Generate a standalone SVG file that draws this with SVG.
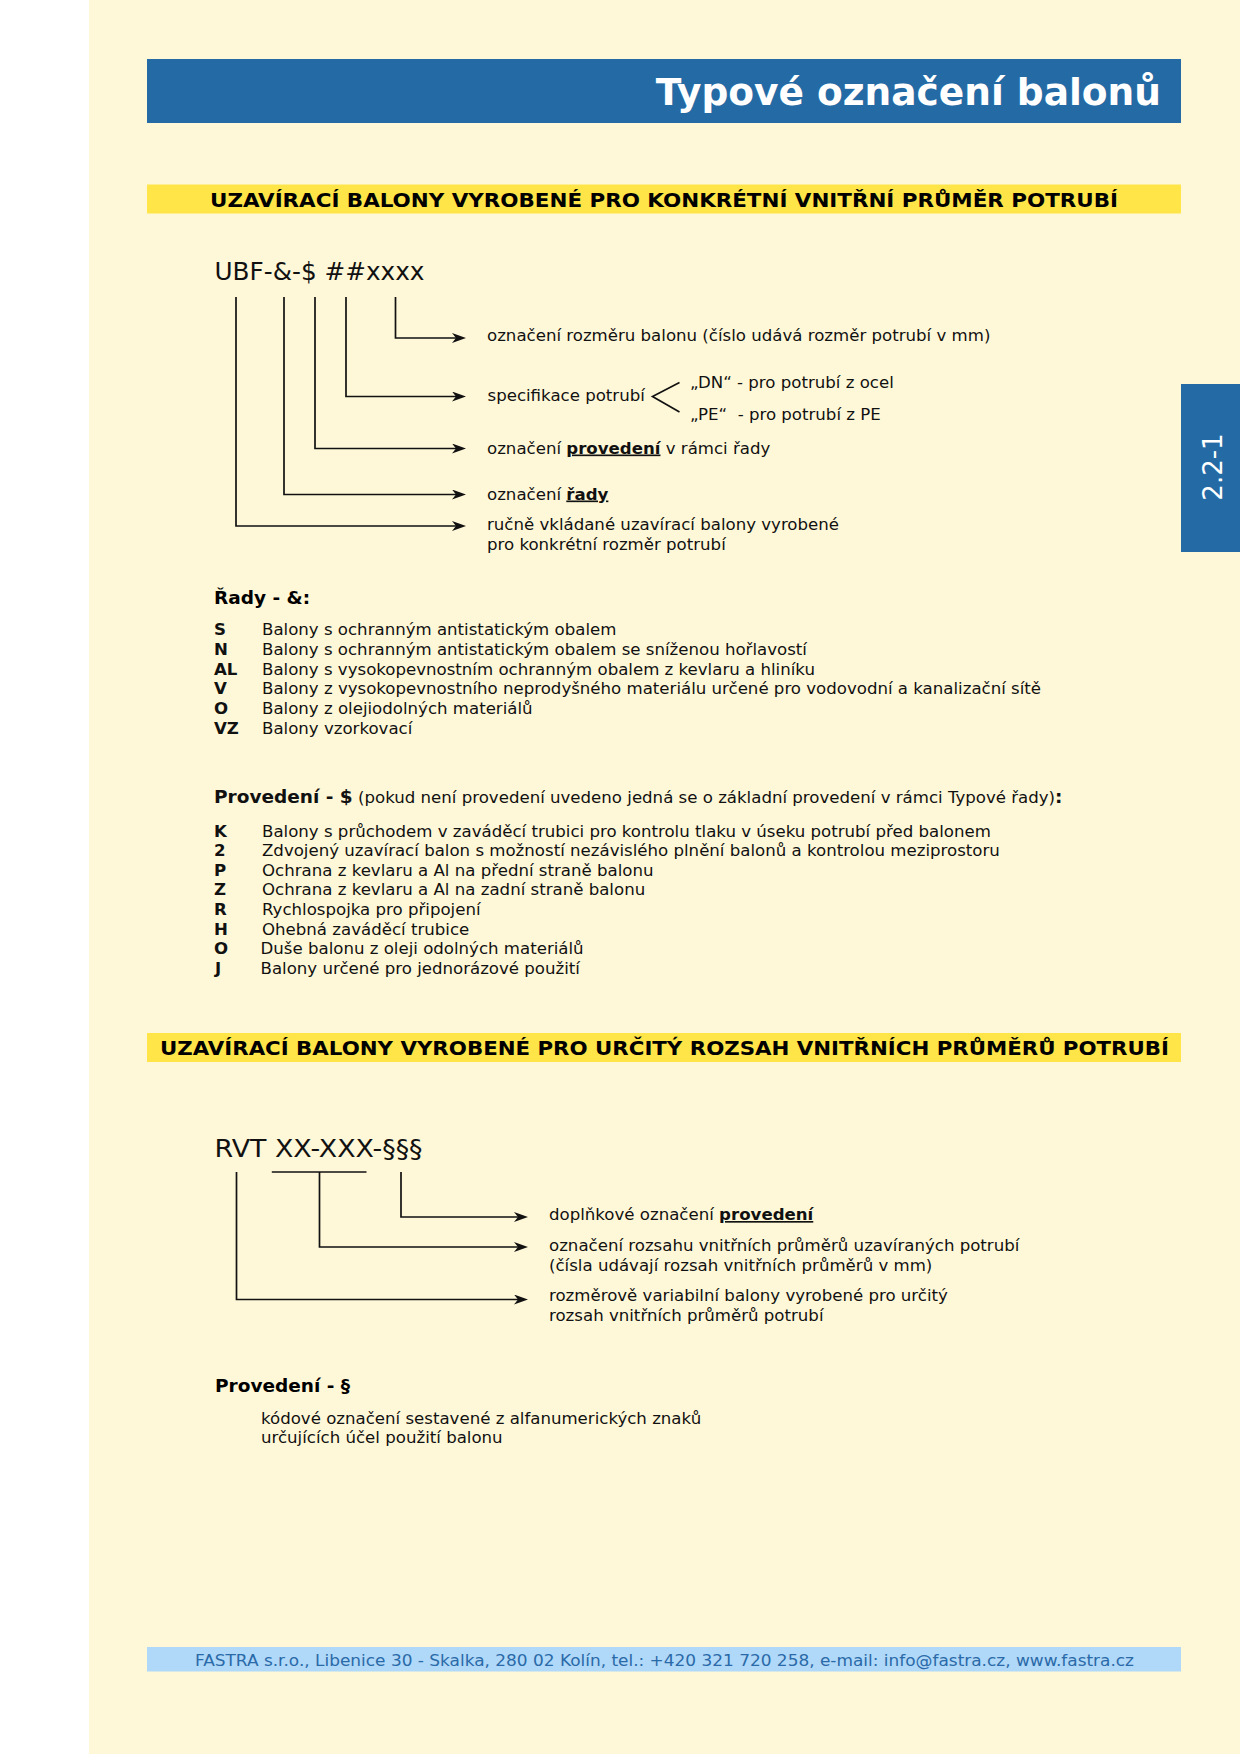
<svg xmlns="http://www.w3.org/2000/svg" width="1240" height="1754" viewBox="0 0 1240 1754">
<style>
.t{font-family:'DejaVu Sans',Verdana,sans-serif;font-size:16.6px;fill:#111}
.b{font-weight:bold}
.u{font-weight:bold;text-decoration:underline}
.ln{stroke:#111;stroke-width:1.7;fill:none}
.code{font-family:'DejaVu Sans',Verdana,sans-serif;font-size:25px;fill:#111}
.hd{font-family:'DejaVu Sans',Verdana,sans-serif;font-weight:bold;font-size:20px;fill:#000}
.h2{font-family:'DejaVu Sans',Verdana,sans-serif;font-weight:bold;font-size:18.5px;fill:#000}
</style>
<defs>
<marker id="arr" markerUnits="userSpaceOnUse" markerWidth="16" markerHeight="12" refX="5" refY="5" orient="auto">
<path d="M0,0 L14,5 L0,10 L4,5 z" fill="#111"/>
</marker>
</defs>
<rect x="0" y="0" width="1240" height="1754" fill="#ffffff"/>
<rect x="89" y="0" width="1151" height="1754" fill="#fff8d8"/>

<g id="title">
<rect x="147" y="59" width="1034" height="64" fill="#246ba6"/>
<text x="1161" y="105" text-anchor="end" font-family="'DejaVu Sans',Verdana,sans-serif" font-weight="bold" font-size="37.5" fill="#ffffff">Typové označení balonů</text>
</g>

<g id="tab">
<rect x="1181" y="384" width="59" height="168" fill="#246ba6"/>
<text transform="translate(1221.5,467) rotate(-90)" text-anchor="middle" font-family="'DejaVu Sans',Verdana,sans-serif" font-size="26" fill="#ffffff">2.2-1</text>
</g>

<g id="header1">
<rect x="147" y="184.5" width="1034" height="29" fill="#ffe548"/>
<text class="hd" x="210" y="207" textLength="908" lengthAdjust="spacingAndGlyphs">UZAVÍRACÍ BALONY VYROBENÉ PRO KONKRÉTNÍ VNITŘNÍ PRŮMĚR POTRUBÍ</text>
</g>

<g id="code1">
<text class="code" x="214.5" y="279.5" textLength="210" lengthAdjust="spacingAndGlyphs">UBF-&amp;-$ ##xxxx</text>
</g>

<g id="connectors1">
<path class="ln" d="M395.5,297 V338 H457" marker-end="url(#arr)"/>
<path class="ln" d="M346,297 V396.5 H457" marker-end="url(#arr)"/>
<path class="ln" d="M315,297 V448.5 H457" marker-end="url(#arr)"/>
<path class="ln" d="M284,297 V494.5 H457" marker-end="url(#arr)"/>
<path class="ln" d="M236,297 V526 H457" marker-end="url(#arr)"/>
<path class="ln" d="M679.5,382.5 L652.5,396.5 L679.5,412"/>
</g>

<g id="labels1">
<text class="t" x="487" y="341">označení rozměru balonu (číslo udává rozměr potrubí v mm)</text>
<text class="t" x="487.5" y="400.5">specifikace potrubí</text>
<text class="t" x="690" y="387.5">„DN“ - pro potrubí z ocel</text>
<text class="t" x="690" y="420" xml:space="preserve" style="white-space:pre">„PE“  - pro potrubí z PE</text>
<text class="t" x="487" y="453.5">označení <tspan class="u">provedení</tspan> v rámci řady</text>
<text class="t" x="487" y="499.5">označení <tspan class="u">řady</tspan></text>
<text class="t" x="487" y="530">ručně vkládané uzavírací balony vyrobené</text>
<text class="t" x="487" y="549.5">pro konkrétní rozměr potrubí</text>
</g>

<g id="rady">
<text class="h2" x="214" y="604">Řady - &amp;:</text>
<text class="t b" x="214" y="635">S</text><text class="t" x="262" y="635">Balony s ochranným antistatickým obalem</text>
<text class="t b" x="214" y="654.8">N</text><text class="t" x="262" y="654.8">Balony s ochranným antistatickým obalem se sníženou hořlavostí</text>
<text class="t b" x="214" y="674.6">AL</text><text class="t" x="262" y="674.6">Balony s vysokopevnostním ochranným obalem z kevlaru a hliníku</text>
<text class="t b" x="214" y="694.4">V</text><text class="t" x="262" y="694.4">Balony z vysokopevnostního neprodyšného materiálu určené pro vodovodní a kanalizační sítě</text>
<text class="t b" x="214" y="714.2">O</text><text class="t" x="262" y="714.2">Balony z olejiodolných materiálů</text>
<text class="t b" x="214" y="734">VZ</text><text class="t" x="262" y="734">Balony vzorkovací</text>
</g>

<g id="provedeni1">
<text class="t" x="214" y="803"><tspan class="b" font-size="18.5">Provedení - $</tspan> (pokud není provedení uvedeno jedná se o základní provedení v rámci Typové řady)<tspan class="b" font-size="18.5">:</tspan></text>
<text class="t b" x="214" y="836.5">K</text><text class="t" x="262" y="836.5">Balony s průchodem v zaváděcí trubici pro kontrolu tlaku v úseku potrubí před balonem</text>
<text class="t b" x="214" y="856.1">2</text><text class="t" x="262" y="856.1">Zdvojený uzavírací balon s možností nezávislého plnění balonů a kontrolou meziprostoru</text>
<text class="t b" x="214" y="875.7">P</text><text class="t" x="262" y="875.7">Ochrana z kevlaru a Al na přední straně balonu</text>
<text class="t b" x="214" y="895.3">Z</text><text class="t" x="262" y="895.3">Ochrana z kevlaru a Al na zadní straně balonu</text>
<text class="t b" x="214" y="914.9">R</text><text class="t" x="262" y="914.9">Rychlospojka pro připojení</text>
<text class="t b" x="214" y="934.5">H</text><text class="t" x="262" y="934.5">Ohebná zaváděcí trubice</text>
<text class="t b" x="214" y="954.1">O</text><text class="t" x="260.5" y="954.1">Duše balonu z oleji odolných materiálů</text>
<text class="t b" x="215" y="973.7">J</text><text class="t" x="260.5" y="973.7">Balony určené pro jednorázové použití</text>
</g>

<g id="header2">
<rect x="147" y="1033" width="1034" height="29" fill="#ffe548"/>
<text class="hd" x="160" y="1054.5" textLength="1009" lengthAdjust="spacingAndGlyphs">UZAVÍRACÍ BALONY VYROBENÉ PRO URČITÝ ROZSAH VNITŘNÍCH PRŮMĚRŮ POTRUBÍ</text>
</g>

<g id="code2">
<text class="code" x="214.5" y="1157" textLength="208" lengthAdjust="spacingAndGlyphs">RVT XX-XXX-§§§</text>
</g>

<g id="connectors2">
<path class="ln" d="M271.8,1172 H366.5"/>
<path class="ln" d="M401,1172 V1217 H519" marker-end="url(#arr)"/>
<path class="ln" d="M319.5,1172 V1247 H519" marker-end="url(#arr)"/>
<path class="ln" d="M236.5,1172 V1299.5 H519" marker-end="url(#arr)"/>
</g>

<g id="labels2">
<text class="t" x="549" y="1220">doplňkové označení <tspan class="u">provedení</tspan></text>
<text class="t" x="549" y="1251">označení rozsahu vnitřních průměrů uzavíraných potrubí</text>
<text class="t" x="549" y="1271">(čísla udávají rozsah vnitřních průměrů v mm)</text>
<text class="t" x="549" y="1301">rozměrově variabilní balony vyrobené pro určitý</text>
<text class="t" x="549" y="1320.5">rozsah vnitřních průměrů potrubí</text>
</g>

<g id="provedeni2">
<text class="h2" x="215" y="1392">Provedení - §</text>
<text class="t" x="261" y="1424">kódové označení sestavené z alfanumerických znaků</text>
<text class="t" x="261" y="1443">určujících účel použití balonu</text>
</g>

<g id="footer">
<rect x="147" y="1647" width="1034" height="24.5" fill="#b0d8f8"/>
<text x="195" y="1665.5" font-family="'DejaVu Sans',Verdana,sans-serif" font-size="15" fill="#2a6aa8" textLength="939" lengthAdjust="spacingAndGlyphs">FASTRA s.r.o., Libenice 30 - Skalka, 280 02 Kolín, tel.: +420 321 720 258, e-mail: info@fastra.cz, www.fastra.cz</text>
</g>
</svg>
